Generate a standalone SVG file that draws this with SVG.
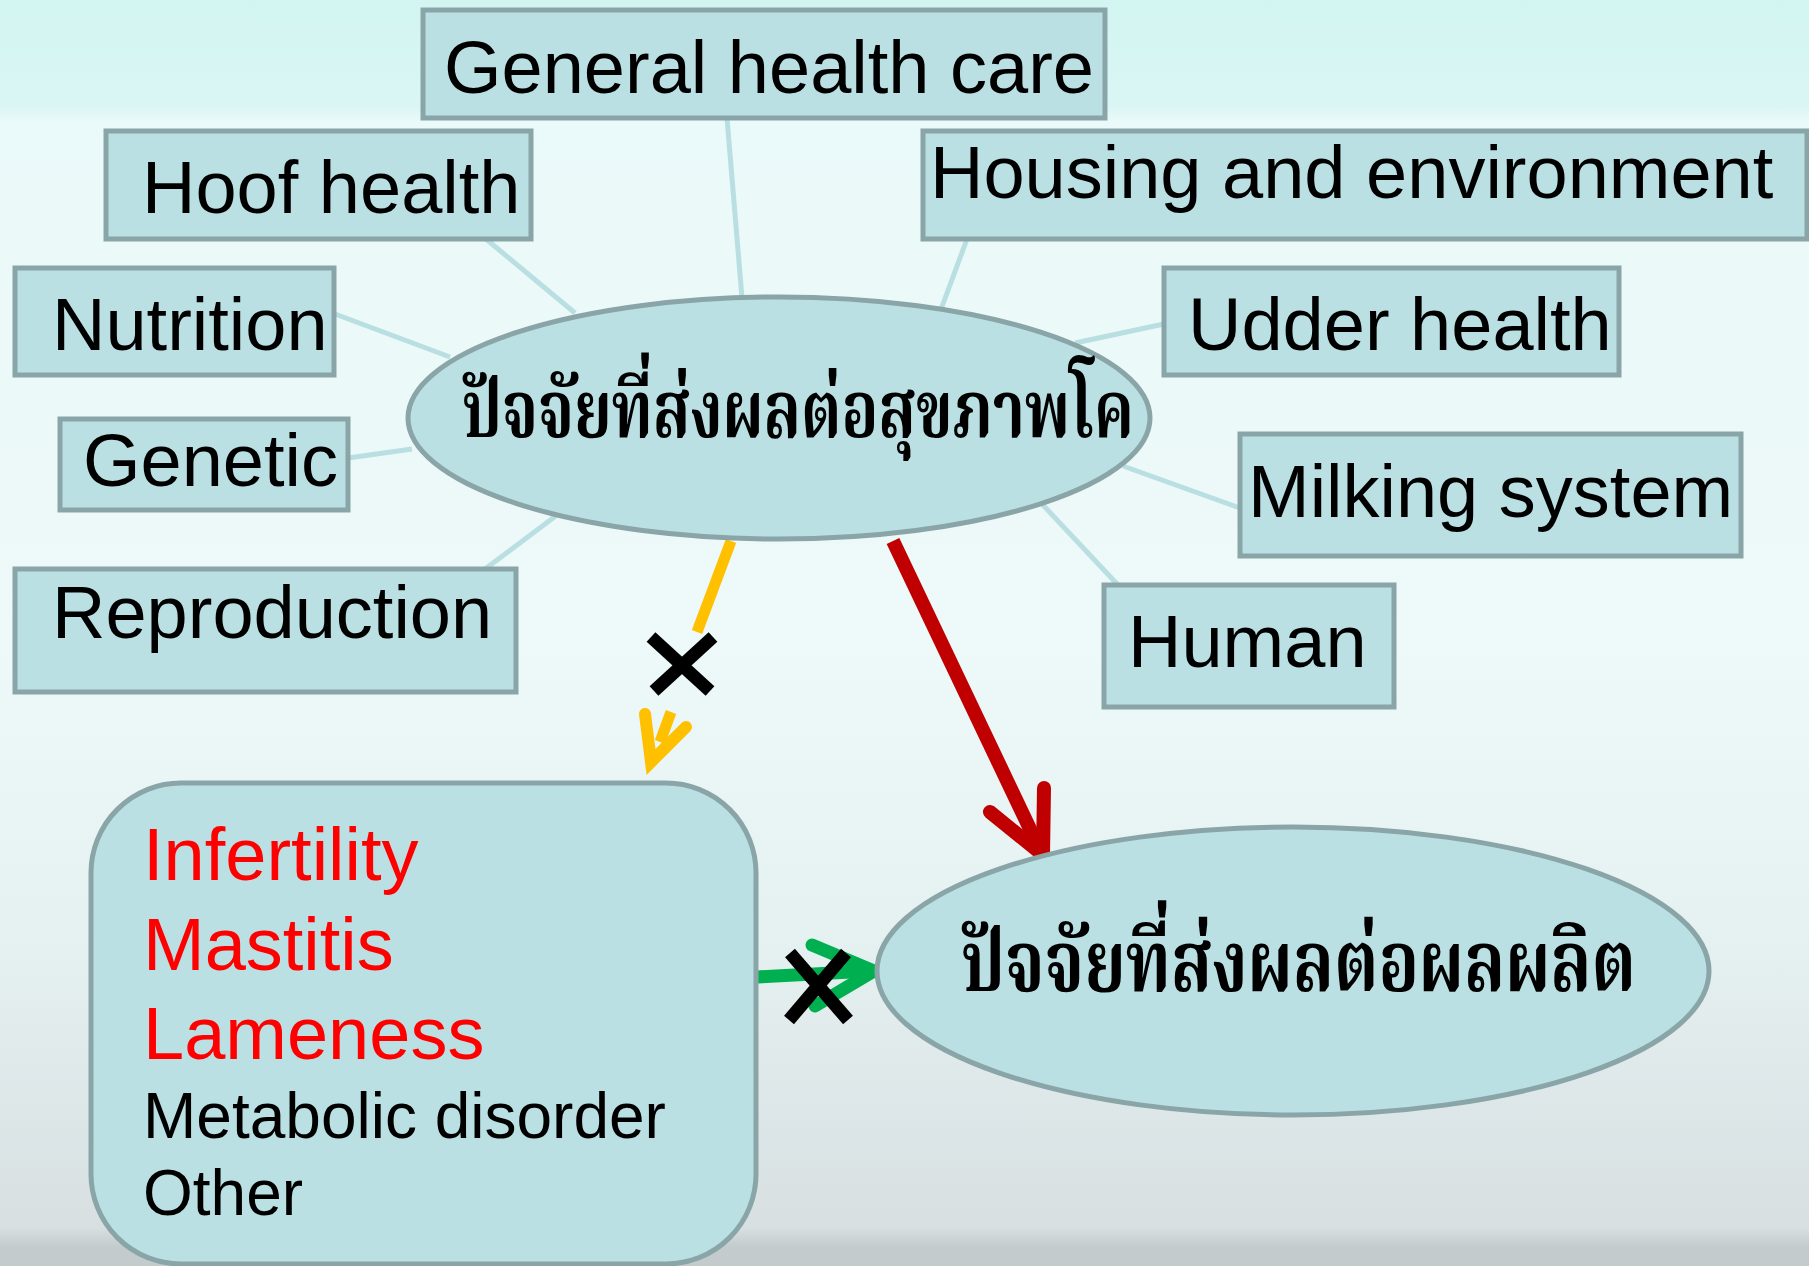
<svg xmlns="http://www.w3.org/2000/svg" width="1809" height="1266" viewBox="0 0 1809 1266">
<defs>
<linearGradient id="bg" x1="0" y1="0" x2="0" y2="1">
<stop offset="0" stop-color="#d2f5f2"/>
<stop offset="0.085" stop-color="#daf6f4"/>
<stop offset="0.095" stop-color="#eaf9f9"/>
<stop offset="0.5" stop-color="#eef9f9"/>
<stop offset="0.75" stop-color="#e5f0f1"/>
<stop offset="0.97" stop-color="#d7dfe1"/>
<stop offset="0.985" stop-color="#c3cbcd"/>
<stop offset="1" stop-color="#c3cbcd"/>
</linearGradient>
<style>
.box{fill:#bae0e3;stroke:#8aa5a8;stroke-width:5}
.lbl{font-family:"Liberation Sans",Arial,sans-serif;font-size:74px;fill:#000}
.thai{font-family:"Noto Serif Thai","Noto Sans Thai","Garuda","Loma","DejaVu Sans",sans-serif;font-weight:bold;fill:#000}
.spoke{stroke:#b9dfe2;stroke-width:5;fill:none}
.red{font-family:"Liberation Sans",Arial,sans-serif;font-size:74px;fill:#ff0000}
.blk{font-family:"Liberation Sans",Arial,sans-serif;font-size:64px;fill:#000}
</style>
</defs>
<rect x="0" y="0" width="1809" height="1266" fill="url(#bg)"/>
<g id="connectors">
<line class="spoke" x1="727" y1="118" x2="742" y2="298"/>
<line class="spoke" x1="486" y1="239" x2="575" y2="313"/>
<line class="spoke" x1="967" y1="239" x2="940" y2="312"/>
<line class="spoke" x1="335" y1="314" x2="450" y2="357"/>
<line class="spoke" x1="1164" y1="324" x2="1075" y2="343"/>
<line class="spoke" x1="348" y1="458" x2="412" y2="449"/>
<line class="spoke" x1="1240" y1="508" x2="1123" y2="466"/>
<line class="spoke" x1="1118" y1="585" x2="1042" y2="504"/>
<line class="spoke" x1="485" y1="569" x2="557" y2="515"/>
<g id="yellow-arrow" stroke="#ffc000" stroke-width="11" fill="none">
<line x1="731" y1="541" x2="697" y2="632"/>
<line x1="671" y1="712" x2="660" y2="742"/>
<polyline points="645,714 651,762 686,727" stroke-width="12" stroke-linecap="round" stroke-linejoin="miter"/>
</g>
<g id="red-arrow" stroke="#c00000" stroke-width="14" fill="none">
<line x1="893" y1="541" x2="1040" y2="850"/>
<polyline points="990,812 1043,855 1044,788" stroke-linecap="round" stroke-linejoin="miter"/>
</g>
<g id="green-arrow" stroke="#00b050" stroke-width="13" fill="none">
<line x1="757" y1="977" x2="870" y2="971"/>
<polyline points="812,945 874,971 815,1006" stroke-linecap="round" stroke-linejoin="miter"/>
</g>
<g id="cross1" stroke="#000" stroke-width="13">
<line x1="651" y1="637" x2="710" y2="691"/>
<line x1="713" y1="637" x2="654" y2="691"/>
</g>
<g id="cross2" stroke="#000" stroke-width="13">
<line x1="790" y1="953" x2="848" y2="1020"/>
<line x1="846" y1="953" x2="789" y2="1020"/>
</g>
</g>
<g id="general-health-care"><rect class="box" x="423" y="10" width="682" height="108"/><text class="lbl" x="444" y="93">General health care</text></g>
<g id="hoof-health"><rect class="box" x="106" y="131" width="425" height="108"/><text class="lbl" x="142" y="213">Hoof health</text></g>
<g id="housing-environment"><rect class="box" x="923" y="131" width="884" height="108"/><text class="lbl" x="930" y="198">Housing and environment</text></g>
<g id="nutrition"><rect class="box" x="15" y="268" width="319" height="107"/><text class="lbl" x="52" y="350">Nutrition</text></g>
<g id="udder-health"><rect class="box" x="1164" y="268" width="455" height="107"/><text class="lbl" x="1188" y="350">Udder health</text></g>
<g id="genetic"><rect class="box" x="60" y="419" width="288" height="91"/><text class="lbl" x="83" y="486">Genetic</text></g>
<g id="milking-system"><rect class="box" x="1240" y="434" width="501" height="122"/><text class="lbl" x="1248" y="517">Milking system</text></g>
<g id="reproduction"><rect class="box" x="15" y="569" width="501" height="123"/><text class="lbl" x="52" y="638">Reproduction</text></g>
<g id="human"><rect class="box" x="1104" y="585" width="290" height="122"/><text class="lbl" x="1128" y="667">Human</text></g>
<g id="cow-health"><ellipse class="box" cx="779" cy="418" rx="371" ry="121"/><text class="thai" x="462" y="437" font-size="80" textLength="672" lengthAdjust="spacingAndGlyphs">ปัจจัยที่ส่งผลต่อสุขภาพโค</text></g>
<g id="production"><ellipse class="box" cx="1293" cy="971" rx="416" ry="144"/><text class="thai" x="961" y="991" font-size="86" textLength="675" lengthAdjust="spacingAndGlyphs">ปัจจัยที่ส่งผลต่อผลผลิต</text></g>
<g id="diseases"><rect class="box" x="91" y="783" width="665" height="481" rx="90" ry="90"/>
<text class="red" x="143" y="880">Infertility</text>
<text class="red" x="143" y="970">Mastitis</text>
<text class="red" x="143" y="1059">Lameness</text>
<text class="blk" x="143" y="1138">Metabolic disorder</text>
<text class="blk" x="143" y="1215">Other</text>
</g>
</svg>
